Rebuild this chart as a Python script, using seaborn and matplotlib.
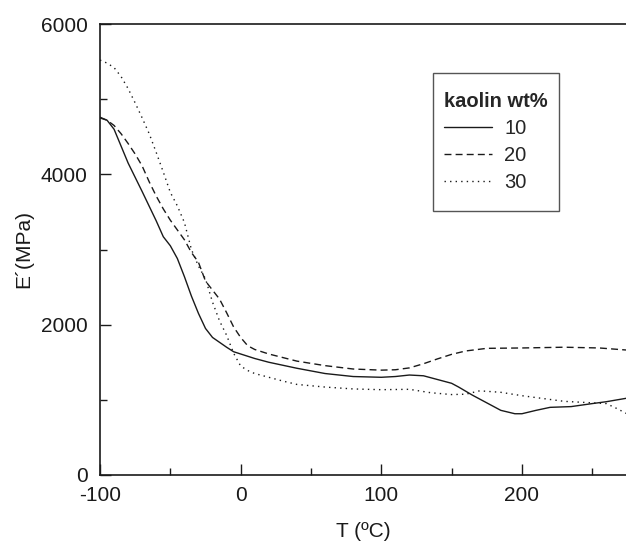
import matplotlib
matplotlib.use("Agg")
import matplotlib.pyplot as plt
import seaborn as sns
import pandas as pd
from matplotlib.ticker import AutoMinorLocator
from matplotlib.offsetbox import DrawingArea

# ---- data ----
T10 = [-100, -95, -90, -80, -70, -60, -55, -50, -45, -40, -35, -30, -25, -20, -10, -5, 0,
       10, 20, 40, 60, 80, 100, 110, 120, 130, 140, 150, 155, 165, 175, 185, 195, 200,
       210, 220, 235, 250, 260, 274]
E10 = [4760, 4720, 4600, 4150, 3770, 3380, 3170, 3050, 2880, 2640, 2380, 2150, 1950, 1830,
       1700, 1640, 1610, 1550, 1500, 1420, 1350, 1310, 1300, 1310, 1330, 1320, 1270, 1220,
       1170, 1060, 960, 860, 815, 815, 860, 900, 910, 950, 975, 1020]

T20 = [-100, -95, -90, -85, -80, -75, -70, -65, -60, -55, -50, -45, -40, -35, -30, -25, -20,
       -15, -10, -5, 0, 5, 10, 20, 40, 60, 80, 100, 110, 120, 130, 140, 150, 160, 175, 200,
       230, 255, 274]
E20 = [4750, 4720, 4650, 4540, 4410, 4270, 4110, 3900, 3710, 3540, 3390, 3260, 3130, 2960,
       2830, 2580, 2460, 2340, 2160, 1970, 1830, 1720, 1670, 1610, 1515, 1455, 1410, 1395,
       1400, 1425, 1480, 1545, 1605, 1650, 1685, 1690, 1700, 1690, 1663]

T30 = [-100, -95, -90, -85, -80, -75, -70, -65, -60, -55, -50, -45, -40, -35, -30, -25, -20,
       -15, -10, -5, 0, 5, 10, 20, 30, 40, 60, 80, 100, 120, 135, 150, 160, 170, 185, 200,
       210, 230, 250, 260, 268, 274]
E30 = [5520, 5480, 5420, 5300, 5140, 4950, 4750, 4540, 4290, 4030, 3760, 3580, 3360, 3000,
       2780, 2610, 2300, 2050, 1860, 1620, 1450, 1390, 1350, 1300, 1250, 1205, 1170, 1145,
       1135, 1140, 1095, 1070, 1075, 1120, 1100, 1055, 1030, 980, 960, 950, 880, 820]

labels = ["10", "20", "30"]
x_ticks = [-100, 0, 100, 200]
y_ticks = [0, 2000, 4000, 6000]

series = {"10": (T10, E10), "20": (T20, E20), "30": (T30, E30)}
frames = []
for lab in labels:
    t, e = series[lab]
    frames.append(pd.DataFrame({"T": t, "E": e, "kaolin": lab}))
df = pd.concat(frames, ignore_index=True)

sns.set_theme(style="white")
plt.rcParams["font.family"] = ["Liberation Sans", "DejaVu Sans"]
plt.rcParams["axes.unicode_minus"] = False

fig = plt.figure(figsize=(6.26, 5.41), dpi=100)
ax = fig.add_axes([100 / 626, 1 - 475 / 541, 1 - 100 / 626, (475 - 24) / 541])

styles = {"10": "-", "20": (0, (5, 3)), "30": (0, (1, 3))}
color = "#1a1a1a"
for lab in labels:
    sub = df[df["kaolin"] == lab]
    sns.lineplot(data=sub, x="T", y="E", ax=ax, color=color, lw=1.0,
                 linestyle=styles[lab], label=lab, sort=False, estimator=None)

ax.set_xlim(-100, 274)
ax.set_ylim(0, 6000)
ax.set_xticks(x_ticks)
ax.set_yticks(y_ticks)
ax.xaxis.set_minor_locator(AutoMinorLocator(2))
ax.yaxis.set_minor_locator(AutoMinorLocator(2))
ax.tick_params(axis="both", which="major", direction="in", length=8, width=1,
               labelsize=15, colors="#1a1a1a")
ax.tick_params(axis="x", which="major", pad=8)
ax.tick_params(axis="y", which="major", pad=9)
ax.tick_params(axis="both", which="minor", direction="in", length=5, width=1,
               colors="#1a1a1a")
ax.tick_params(left=True, bottom=True, top=False, right=False, which="both")

for side in ["left", "bottom", "top"]:
    ax.spines[side].set_color("#1a1a1a")
    ax.spines[side].set_linewidth(1.2)
ax.spines["right"].set_visible(False)

ax.set_xlabel("T (ºC)", fontsize=15, color="#1a1a1a", labelpad=12)
ax.set_ylabel("E´(MPa)", fontsize=15, color="#1a1a1a", labelpad=5)

leg = ax.legend(title="kaolin wt%", loc="upper left",
                bbox_to_anchor=(433 / 626, 1 - 73 / 541), bbox_transform=fig.transFigure,
                fontsize=14.5, title_fontsize=14.5, frameon=True, fancybox=False,
                edgecolor="#555555", framealpha=1, handlelength=2.4, handletextpad=0.6,
                borderpad=0.55, labelspacing=0.4, borderaxespad=0)
leg._legend_box.align = "left"
leg.get_title().set_fontweight("bold")
leg.get_frame().set_linewidth(1.0)
# extra vertical padding inside the legend box (top and bottom only)
try:
    kids = leg._legend_box._children
    leg._legend_box._children = [DrawingArea(1, 0)] + list(kids) + [DrawingArea(1, 0)]
except Exception:
    pass

fig.savefig("out.png", dpi=100)
